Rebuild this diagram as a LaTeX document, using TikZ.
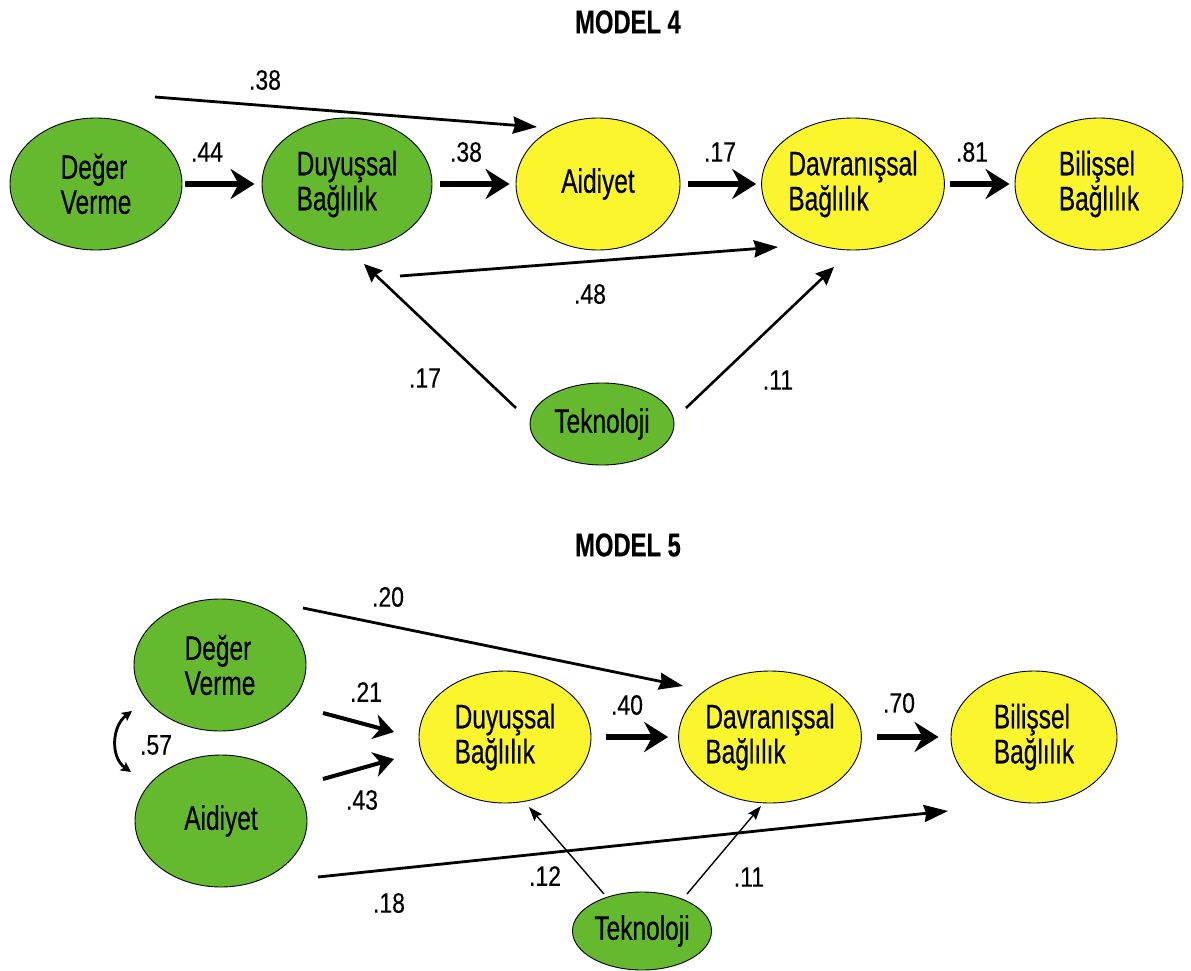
\documentclass[tikz,border=0pt]{standalone}
\usepackage{fontspec}
\setmainfont{Liberation Sans}[FakeStretch=0.72, FakeBold=0.35]
\newfontfamily\numfont{Liberation Sans}[FakeStretch=0.82, FakeBold=0.3]
\usetikzlibrary{shapes.geometric,arrows.meta}
\definecolor{latgreen}{RGB}{101,185,46}
\definecolor{latyellow}{RGB}{250,245,45}
\begin{document}
\begin{tikzpicture}[x=1pt,y=-1pt,
  latent/.style={ellipse, draw=black, line width=0.9pt, inner sep=0pt,
    align=left, font=\fontsize{34}{35}\selectfont},
  exo/.style={latent, fill=latgreen},
  endo/.style={latent, fill=latyellow},
  coef/.style={font=\numfont\fontsize{28}{32}\selectfont, inner sep=0pt},
  heading/.style={font=\bfseries\fontsize{33}{36}\selectfont, inner sep=0pt},
  mainpath/.style={line width=5.5pt, -{Stealth[length=24pt, width=30pt, inset=8pt]}},
  midpath/.style={line width=4pt, -{Stealth[length=20pt, width=25pt, inset=6pt]}},
  longpath/.style={line width=2.8pt, -{Stealth[length=24pt, width=17pt, inset=2pt]}},
  techpath/.style={line width=2.6pt, -{Stealth[length=18pt, width=16pt, inset=2pt]}},
  finepath/.style={line width=1.4pt, -{Stealth[length=14pt, width=10pt, inset=2pt]}},
  covpath/.style={line width=2.8pt, {Stealth[length=10pt, width=10pt, inset=2pt]}-{Stealth[length=10pt, width=10pt, inset=2pt]}}
]
\useasboundingbox (0,0) rectangle (1191,971);

% ---------------- Model 4 ----------------
\node[heading] (t4) at (628,22) {MODEL 4};

\node[exo,  minimum width=172pt, minimum height=132pt] (dv4) at (96,184)  {Değer\\Verme};
\node[exo,  minimum width=170pt, minimum height=132pt] (db4) at (347,184) {Duyuşsal\\Bağlılık};
\node[endo, minimum width=164pt, minimum height=132pt] (ai4) at (598,184) {Aidiyet};
\node[endo, minimum width=174pt, minimum height=132pt] (da4) at (853,184) {Davranışsal\\Bağlılık};
\node[endo, minimum width=168pt, minimum height=132pt] (bb4) at (1099,184) {Bilişsel\\Bağlılık};
\node[exo,  minimum width=144pt, minimum height=82pt]  (tk4) at (602,424) {Teknoloji};

\draw[mainpath, shorten <=3pt, shorten >=7pt] (dv4) -- (db4);
\draw[mainpath, shorten <=8pt, shorten >=6pt] (db4) -- (ai4);
\draw[mainpath, shorten <=8pt, shorten >=5pt] (ai4) -- (da4);
\draw[mainpath, shorten <=5pt, shorten >=5pt] (da4) -- (bb4);

\coordinate (a38s) at (155,97);
\coordinate (a38e) at (537,127);
\draw[longpath] (a38s) -- (a38e);

\coordinate (a48s) at (400,276);
\coordinate (a48e) at (778,247);
\draw[longpath] (a48s) -- (a48e);

\coordinate (t17s) at (516,408);
\coordinate (t17e) at (364,264);
\draw[techpath] (t17s) -- (t17e);

\coordinate (t11s) at (686,408);
\coordinate (t11e) at (834,267);
\draw[techpath] (t11s) -- (t11e);

\node[coef] (c44)  at (207,152) {.44};
\node[coef] (c38a) at (466,152) {.38};
\node[coef] (c17a) at (720,152) {.17};
\node[coef] (c81)  at (972,152) {.81};
\node[coef] (c38b) at (265,80)  {.38};
\node[coef] (c48)  at (590,294) {.48};
\node[coef] (c17b) at (425,378) {.17};
\node[coef] (c11a) at (778,380) {.11};

% ---------------- Model 5 ----------------
\node[heading] (t5) at (628,545) {MODEL 5};

\node[exo,  minimum width=172pt, minimum height=132pt] (dv5) at (220,665) {Değer\\Verme};
\node[exo,  minimum width=172pt, minimum height=132pt] (ai5) at (221,821) {Aidiyet};
\node[endo, minimum width=172pt, minimum height=132pt] (db5) at (505,737) {Duyuşsal\\Bağlılık};
\node[endo, minimum width=168pt, minimum height=132pt] (da5) at (770,737) {Davranışsal\\Bağlılık};
\node[endo, minimum width=166pt, minimum height=132pt] (bb5) at (1034,737) {Bilişsel\\Bağlılık};
\node[exo,  minimum width=139pt, minimum height=78pt]  (tk5) at (642,931) {Teknoloji};

\draw[mainpath, shorten <=15pt, shorten >=10pt] (db5) -- (da5);
\draw[mainpath, shorten <=15pt, shorten >=12pt] (da5) -- (bb5);

\coordinate (v21s) at (323,713);
\coordinate (v21e) at (394,732);
\draw[midpath] (v21s) -- (v21e);

\coordinate (a43s) at (323,779);
\coordinate (a43e) at (394,759);
\draw[midpath] (a43s) -- (a43e);

\coordinate (v20s) at (303,608);
\coordinate (v20e) at (683,686);
\draw[longpath] (v20s) -- (v20e);

\coordinate (a18s) at (318,877);
\coordinate (a18e) at (948,811);
\draw[longpath] (a18s) -- (a18e);

\coordinate (t12s) at (604,894);
\coordinate (t12e) at (529,807);
\draw[finepath] (t12s) -- (t12e);

\coordinate (t11bs) at (687,894);
\coordinate (t11be) at (761,806);
\draw[finepath] (t11bs) -- (t11be);

\coordinate (covtop) at (132,711);
\coordinate (covbot) at (131,772);
\draw[covpath] (covtop) .. controls (112,726) and (110,757) .. (covbot);

\node[coef] (c20)  at (388,597) {.20};
\node[coef] (c21)  at (366,692) {.21};
\node[coef] (c43)  at (362,800) {.43};
\node[coef] (c57)  at (156,745) {.57};
\node[coef] (c40)  at (627,705) {.40};
\node[coef] (c70)  at (899,703) {.70};
\node[coef] (c18)  at (389,903) {.18};
\node[coef] (c12)  at (545,876) {.12};
\node[coef] (c11b) at (749,877) {.11};
\end{tikzpicture}
\end{document}
